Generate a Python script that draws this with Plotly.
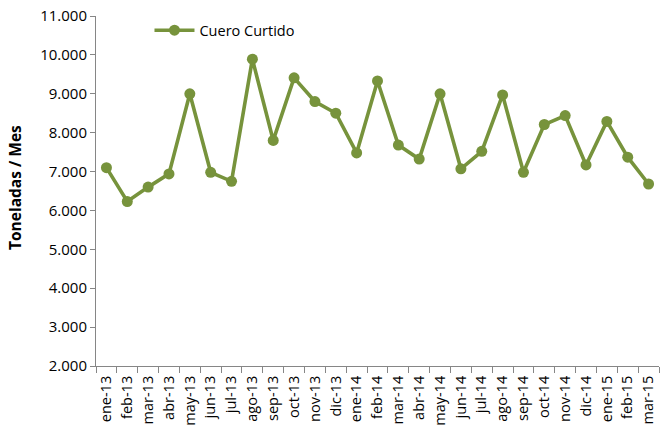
import plotly.graph_objects as go

months = ["ene-13", "feb-13", "mar-13", "abr-13", "may-13", "jun-13", "jul-13", "ago-13", "sep-13",
          "oct-13", "nov-13", "dic-13", "ene-14", "feb-14", "mar-14", "abr-14", "may-14", "jun-14",
          "jul-14", "ago-14", "sep-14", "oct-14", "nov-14", "dic-14", "ene-15", "feb-15", "mar-15"]
cuero_curtido = [7100, 6230, 6600, 6940, 9000, 6980, 6750, 9890, 7800,
                 9410, 8800, 8500, 7480, 9330, 7680, 7320, 9000, 7070,
                 7520, 8970, 6980, 8210, 8440, 7170, 8290, 7370, 6680]
y_ticks = [2000, 3000, 4000, 5000, 6000, 7000, 8000, 9000, 10000, 11000]

color = "#77933C"
font_family = "Open Sans, Noto Sans, sans-serif"

fig = go.Figure()
fig.add_trace(go.Scatter(
    x=months, y=cuero_curtido, mode="lines+markers", name="Cuero Curtido",
    line=dict(color=color, width=3.6),
    marker=dict(color=color, size=11),
    cliponaxis=False,
))

fig.update_layout(
    width=660, height=432,
    margin=dict(l=96, r=1, t=16, b=66),
    paper_bgcolor="white", plot_bgcolor="white",
    separators=",.",
    font=dict(family=font_family, size=14, color="#000000"),
    showlegend=True,
    legend=dict(x=0.095, y=1.005, xanchor="left", yanchor="top",
                bgcolor="rgba(0,0,0,0)", font=dict(size=14.5),
                itemwidth=40),
    xaxis=dict(
        type="category", showgrid=False, showline=True, linecolor="#868686", linewidth=1,
        ticks="outside", tickson="boundaries", ticklen=6, tickcolor="#868686",
        tickangle=-90, tickfont=dict(size=14.5), range=[-0.5, len(months) - 0.5],
        automargin=False, ticklabelstandoff=3,
    ),
    yaxis=dict(
        range=[2000, 11000], tickvals=y_ticks, tickformat=",.0f",
        showgrid=False, showline=True, linecolor="#868686", linewidth=1,
        ticks="outside", ticklen=5, tickcolor="#868686", tickfont=dict(size=15),
        zeroline=False, automargin=False,
    ),
    annotations=[dict(
        text="<b>Toneladas / Mes</b>", textangle=-90, showarrow=False,
        xref="paper", yref="paper", x=(15 - 96) / 563, y=1 - (188 - 16) / 350,
        xanchor="center", yanchor="middle", font=dict(size=15.5),
    )],
)

fig.write_html("out.html", post_script="document.body.style.margin='0px';",
               config={"displayModeBar": False})
